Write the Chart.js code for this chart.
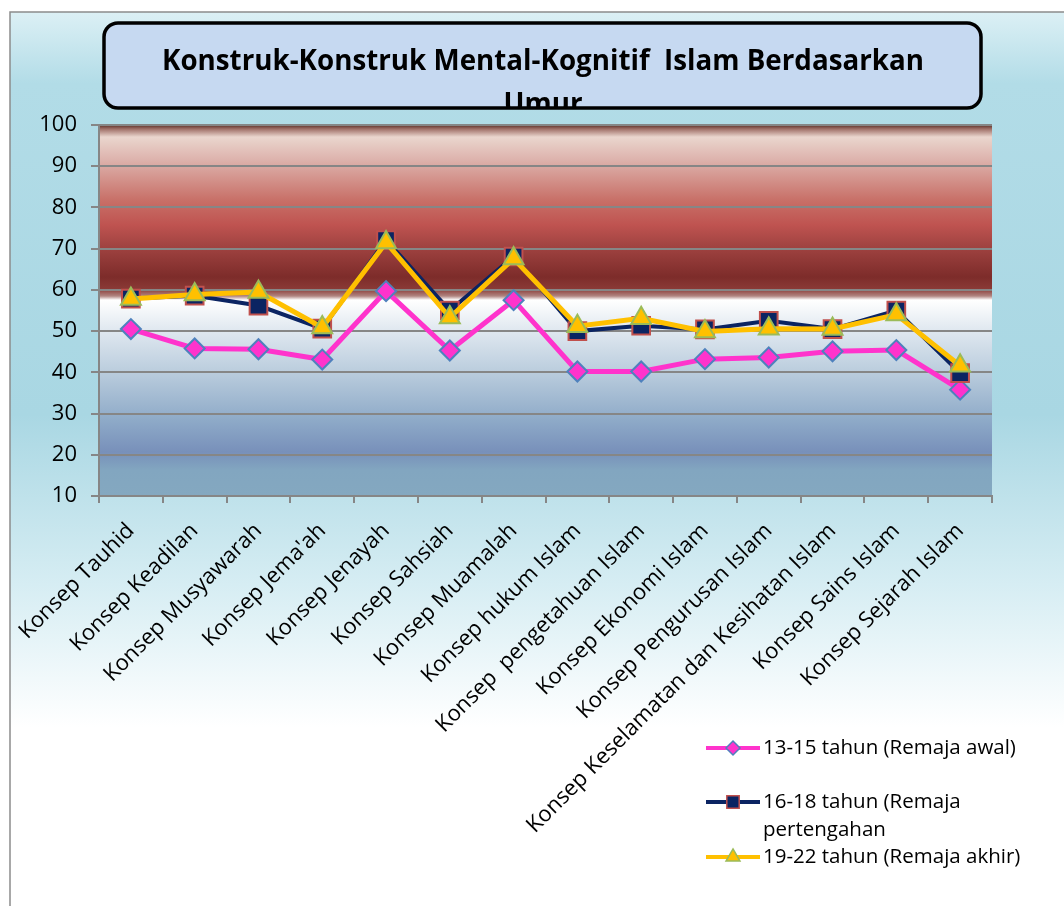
<!DOCTYPE html>
<html>
<head>
<meta charset="utf-8">
<script src="https://cdn.jsdelivr.net/npm/chart.js@4.4.1/dist/chart.umd.min.js"></script>
<style>
  body { margin: 0; background: #fff; }
  canvas { display: block; }
</style>
</head>
<body>
<canvas id="grafik" width="1064" height="906"></canvas>
<script>
// data
const kategori = [
  "Konsep Tauhid", "Konsep Keadilan", "Konsep Musyawarah", "Konsep Jema'ah",
  "Konsep Jenayah", "Konsep Sahsiah", "Konsep Muamalah", "Konsep hukum Islam",
  "Konsep  pengetahuan Islam", "Konsep Ekonomi Islam", "Konsep Pengurusan Islam",
  "Konsep Keselamatan dan Kesihatan Islam", "Konsep Sains Islam", "Konsep Sejarah Islam"
];
const remajaAwal = [50.5, 45.8, 45.6, 43.1, 59.7, 45.3, 57.5, 40.2, 40.2, 43.2, 43.6, 45.1, 45.4, 35.8];
const remajaTengah = [57.9, 58.6, 56.2, 50.6, 72.1, 55.0, 68.1, 50.0, 51.3, 50.4, 52.5, 50.5, 55.0, 39.8];
const remajaAkhir = [57.8, 58.9, 59.5, 50.9, 71.5, 53.3, 67.6, 51.2, 53.1, 49.9, 50.6, 50.5, 54.0, 41.6];
const namaSiri = [
  ["13-15 tahun (Remaja awal)"],
  ["16-18 tahun (Remaja", "pertengahan"],
  ["19-22 tahun (Remaja akhir)"]
];
const judul = ["Konstruk-Konstruk Mental-Kognitif  Islam Berdasarkan", "Umur"];
const yMin = 10, yMax = 100, yStep = 10;

const FONT = "'Open Sans', 'DejaVu Sans', sans-serif";
const abu = "#868686";

// latar belakang, kotak judul
const latar = {
  id: "latar",
  beforeDraw(chart) {
    const ctx = chart.ctx;
    const a = chart.chartArea;
    ctx.save();
    ctx.fillStyle = "#ffffff";
    ctx.fillRect(0, 0, chart.width, chart.height);

    // luar
    let g = ctx.createLinearGradient(0, 12, 0, 906);
    g.addColorStop(0, "#dcf0f5");
    g.addColorStop(0.08, "#b2dce7");
    g.addColorStop(0.45, "#a9d7e3");
    g.addColorStop(0.64, "#d6edf3");
    g.addColorStop(0.8, "#ffffff");
    g.addColorStop(1, "#ffffff");
    ctx.fillStyle = g;
    ctx.fillRect(10, 12, chart.width - 10, chart.height - 12);
    ctx.strokeStyle = "#8c8c8c";
    ctx.lineWidth = 1.5;
    ctx.beginPath();
    ctx.moveTo(10, chart.height);
    ctx.lineTo(10, 12);
    ctx.lineTo(chart.width, 12);
    ctx.stroke();

    // kawasan plot
    const h = a.bottom - a.top;
    g = ctx.createLinearGradient(0, a.top, 0, a.bottom);
    const stop = [
      [0, "#5c3028"], [4, "#a07068"], [12, "#ead6ce"], [35, "#ddb2ac"],
      [75, "#c87068"], [100, "#bf5350"], [120, "#a24442"], [152, "#7d2c2a"],
      [164, "#8a3a36"], [171, "#b08480"], [175, "#ffffff"], [205, "#e0e8f0"],
      [245, "#bccede"], [295, "#8eaac8"], [327, "#7890ba"], [345, "#82a6c0"],
      [371, "#84a8c0"]
    ];
    stop.forEach(s => g.addColorStop(Math.min(1, s[0] / 371), s[1]));
    ctx.fillStyle = g;
    ctx.fillRect(a.left, a.top, a.right - a.left, h);

    // kotak judul
    const bx = 104, by = 23, bw = 877, bh = 85, r = 14;
    ctx.beginPath();
    ctx.roundRect(bx, by, bw, bh, r);
    ctx.fillStyle = "#c6d9f1";
    ctx.fill();
    ctx.save();
    ctx.clip();
    ctx.fillStyle = "#000";
    ctx.font = "bold 28px " + FONT;
    ctx.textAlign = "center";
    ctx.textBaseline = "alphabetic";
    const w = ctx.measureText(judul[0]).width;
    const sx = 762 / w;
    ctx.translate(543, 0);
    ctx.scale(sx, 1);
    ctx.fillText(judul[0], 0, 70);
    ctx.fillText(judul[1], 0, 113);
    ctx.restore();
    ctx.lineWidth = 3.5;
    ctx.strokeStyle = "#000";
    ctx.beginPath();
    ctx.roundRect(bx, by, bw, bh, r);
    ctx.stroke();
    ctx.restore();
  }
};

// legenda buatan sendiri
const legenda = {
  id: "legenda",
  afterDraw(chart) {
    const ctx = chart.ctx;
    const baris = [748, 802, 857];
    ctx.save();
    chart.data.datasets.forEach((ds, i) => {
      const y = baris[i];
      ctx.strokeStyle = ds.borderColor;
      ctx.lineWidth = 4;
      ctx.beginPath();
      ctx.moveTo(706, y);
      ctx.lineTo(760, y);
      ctx.stroke();
      ctx.fillStyle = ds.pointBackgroundColor;
      ctx.strokeStyle = ds.pointBorderColor;
      ctx.lineWidth = 1.5;
      Chart.helpers.drawPoint(ctx, {
        pointStyle: ds.pointStyle, radius: ds.pointRadius * 0.7,
        borderWidth: 1.5, rotation: 0
      }, 733, y);
      ctx.fillStyle = "#000";
      ctx.font = "20.5px " + FONT;
      ctx.textAlign = "left";
      ctx.textBaseline = "middle";
      namaSiri[i].forEach((t, k) => ctx.fillText(t, 763, y + k * 28));
    });
    ctx.restore();
  }
};

const ctx = document.getElementById("grafik").getContext("2d");
new Chart(ctx, {
  type: "line",
  data: {
    labels: kategori,
    datasets: [
      {
        label: namaSiri[0].join(" "),
        data: remajaAwal,
        borderColor: "#ff33cc",
        borderWidth: 5,
        pointStyle: "rectRot",
        pointRadius: 10,
        pointBackgroundColor: "#ff33cc",
        pointBorderColor: "#4f81bd",
        pointBorderWidth: 2,
        order: 3
      },
      {
        label: namaSiri[1].join(" "),
        data: remajaTengah,
        borderColor: "#0b2462",
        borderWidth: 4,
        pointStyle: "rect",
        pointRadius: 12.5,
        pointBackgroundColor: "#0b2462",
        pointBorderColor: "#c0504d",
        pointBorderWidth: 2,
        order: 2
      },
      {
        label: namaSiri[2].join(" "),
        data: remajaAkhir,
        borderColor: "#ffc000",
        borderWidth: 5,
        pointStyle: "triangle",
        pointRadius: 11.5,
        pointBackgroundColor: "#ffc000",
        pointBorderColor: "#9bbb59",
        pointBorderWidth: 2,
        order: 1
      }
    ]
  },
  options: {
    responsive: false,
    animation: false,
    layout: { padding: { top: 125, right: 72, left: 0, bottom: 0 } },
    plugins: {
      legend: { display: false },
      title: { display: false },
      tooltip: { enabled: false }
    },
    elements: { line: { tension: 0 } },
    scales: {
      x: {
        offset: true,
        afterFit(scale) { scale.height = 410; },
        grid: {
          offset: true,
          drawOnChartArea: false,
          drawTicks: true,
          tickLength: 7,
          color: abu,
          lineWidth: 2
        },
        border: { color: abu, width: 2 },
        ticks: {
          autoSkip: false,
          minRotation: 45,
          maxRotation: 45,
          padding: 15,
          color: "#000",
          font: { family: FONT, size: 22 }
        }
      },
      y: {
        min: yMin,
        max: yMax,
        afterFit(scale) { scale.width = 99; },
        grid: { color: abu, lineWidth: 2, tickLength: 8 },
        border: { color: abu, width: 2 },
        ticks: {
          stepSize: yStep,
          padding: 14,
          color: "#000",
          font: { family: FONT, size: 22 }
        }
      }
    }
  },
  plugins: [latar, legenda]
});
</script>
</body>
</html>
